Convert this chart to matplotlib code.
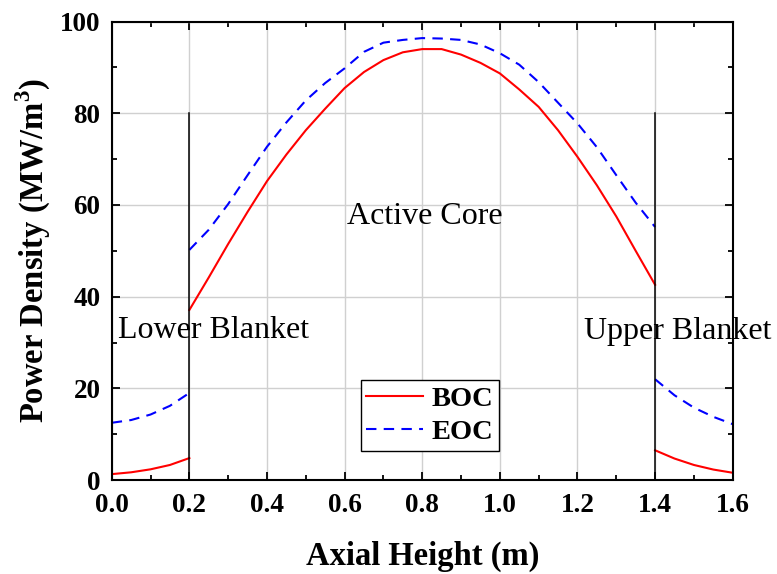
import numpy as np
import matplotlib
matplotlib.use('Agg')
import matplotlib.pyplot as plt
from matplotlib.ticker import MultipleLocator, FormatStrFormatter

plt.rcParams['font.family'] = ['Liberation Serif', 'DejaVu Serif']
plt.rcParams['mathtext.fontset'] = 'custom'
plt.rcParams['mathtext.rm'] = 'Liberation Serif'
plt.rcParams['mathtext.bf'] = 'Liberation Serif:bold'

# lower blanket
xLower = [0.0, 0.05, 0.1, 0.15, 0.2]
bocLower = [1.3, 1.7, 2.35, 3.3, 4.8]
eocLower = [12.5, 13.1, 14.3, 16.2, 19.0]

# active core
xCore = [0.2, 0.25, 0.3, 0.35, 0.4, 0.45, 0.5, 0.55, 0.6, 0.65, 0.7, 0.75, 0.8,
         0.85, 0.9, 0.95, 1.0, 1.05, 1.1, 1.15, 1.2, 1.25, 1.3, 1.35, 1.4]
bocCore = [37.1, 44.2, 51.5, 58.5, 65.2, 71.0, 76.3, 81.0, 85.5, 89.0, 91.6, 93.3, 94.0,
           94.0, 92.8, 91.0, 88.7, 85.2, 81.4, 76.3, 70.5, 64.3, 57.5, 50.0, 42.6]
eocCore = [50.2, 54.6, 60.2, 66.5, 72.7, 78.0, 82.8, 86.6, 89.8, 93.4, 95.4, 96.0, 96.4,
           96.3, 96.0, 95.0, 93.1, 90.6, 86.8, 82.3, 77.8, 72.6, 66.5, 60.5, 55.2]

# upper blanket
xUpper = [1.4, 1.45, 1.5, 1.55, 1.6]
bocUpper = [6.5, 4.7, 3.3, 2.3, 1.6]
eocUpper = [22.0, 18.5, 15.8, 13.8, 12.2]

boundaries = [0.2, 1.4]

fig = plt.figure(figsize=(7.77, 5.74), dpi=100)
ax = fig.add_axes([0.1438, 0.1636, 0.7992, 0.7988])

redKw = dict(color='red', lw=1.5)
blueKw = dict(color='blue', lw=1.5, linestyle=(0, (5, 3.5)))

ax.plot(xLower, bocLower, **redKw)
ax.plot(xCore, bocCore, label='BOC', **redKw)
ax.plot(xUpper, bocUpper, **redKw)
ax.plot(xLower, eocLower, **blueKw)
ax.plot(xCore, eocCore, label='EOC', **blueKw)
ax.plot(xUpper, eocUpper, **blueKw)

for b in boundaries:
    ax.plot([b, b], [0, 80], color='black', lw=1.1)

ax.text(0.016, 32.7, 'Lower Blanket', fontsize=23, va='center', ha='left')
ax.text(0.606, 57.4, 'Active Core', fontsize=23, va='center', ha='left')
ax.text(1.218, 32.3, 'Upper Blanket', fontsize=23, va='center', ha='left', clip_on=False)

ax.set_xlim(0, 1.6)
ax.set_ylim(0, 100)
ax.xaxis.set_major_locator(MultipleLocator(0.2))
ax.xaxis.set_minor_locator(MultipleLocator(0.1))
ax.yaxis.set_major_locator(MultipleLocator(20))
ax.yaxis.set_minor_locator(MultipleLocator(10))
ax.xaxis.set_major_formatter(FormatStrFormatter('%.1f'))
ax.grid(True, which='major', color='#d0d0d0', lw=1.0)
ax.set_axisbelow(True)

ax.tick_params(which='both', direction='in', top=True, right=True, width=1.3)
ax.tick_params(which='major', length=6, labelsize=19.5)
ax.tick_params(axis='x', which='major', pad=9)
ax.tick_params(axis='y', which='major', pad=8)
ax.tick_params(which='minor', length=3.5)
for lab in ax.get_xticklabels() + ax.get_yticklabels():
    lab.set_fontweight('bold')
for sp in ax.spines.values():
    sp.set_linewidth(1.5)

ax.set_xlabel('Axial Height (m)', fontsize=23.5, fontweight='bold', labelpad=17)
ax.set_ylabel(r'Power Density (MW/m$^\mathbf{3}$)', fontsize=23.5, fontweight='bold', labelpad=5)

leg = ax.legend(loc='lower left', bbox_to_anchor=(0.401, 0.064),
                prop={'weight': 'bold', 'size': 20.5}, frameon=True, fancybox=False,
                edgecolor='black', framealpha=1, handlelength=2.0, borderpad=0.2,
                labelspacing=0.25, handletextpad=0.3, borderaxespad=0)
leg.get_frame().set_linewidth(1.0)

fig.savefig('out.png', dpi=100)
